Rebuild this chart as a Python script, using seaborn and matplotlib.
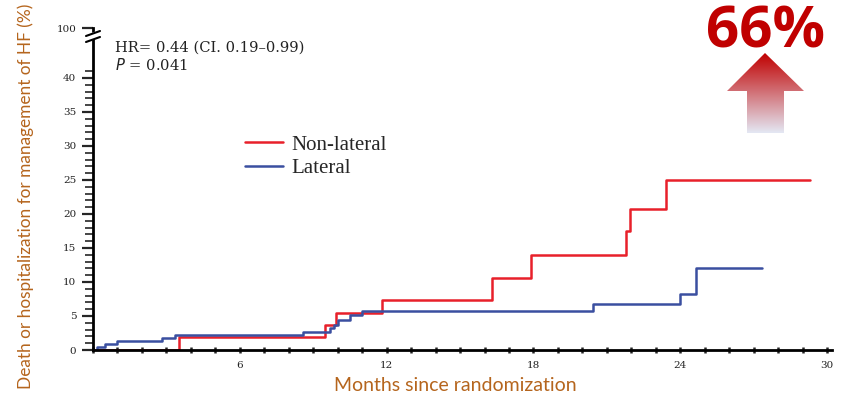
import numpy as np
import pandas as pd
import matplotlib
matplotlib.use('Agg')
import matplotlib.pyplot as plt
from matplotlib.patches import Polygon
import seaborn as sns

# step data (months, cumulative %)
nonlat_months = [0.0, 3.5, 9.5, 9.95, 11.8, 16.3, 17.9, 21.8, 21.95, 23.4, 29.3]
nonlat_pct = [0.0, 1.9, 3.7, 5.4, 7.4, 10.6, 14.0, 17.5, 20.8, 25.0, 25.0]
lat_months = [0.0, 0.15, 0.5, 1.0, 2.8, 3.35, 8.6, 9.7, 9.85, 10.0, 10.5, 11.0, 20.45, 24.0, 24.65, 27.35]
lat_pct = [0.0, 0.5, 0.9, 1.3, 1.8, 2.2, 2.6, 3.3, 3.7, 4.4, 5.2, 5.7, 6.7, 8.3, 12.0, 12.0]

ytick_vals = [0, 5, 10, 15, 20, 25, 30, 35, 40, 47.35]
ytick_labels = ['0', '5', '10', '15', '20', '25', '30', '35', '40', '100']
xtick_vals = [6, 12, 18, 24, 30]

df = pd.concat([
    pd.DataFrame({'month': nonlat_months, 'pct': nonlat_pct, 'group': 'Non-lateral'}),
    pd.DataFrame({'month': lat_months, 'pct': lat_pct, 'group': 'Lateral'}),
])

sns.set_style('white')
W, H = 850, 401
fig = plt.figure(figsize=(W / 100, H / 100), dpi=100)
ax = fig.add_axes([93 / W, (H - 350) / H, (832 - 93) / W, (350 - 28) / H])

sns.lineplot(data=df, x='month', y='pct', hue='group', estimator=None, sort=False,
             drawstyle='steps-post', palette={'Non-lateral': '#e8202a', 'Lateral': '#3a4fa0'},
             linewidth=1.8, ax=ax)

ax.set_xlim(0, 30.2)
ax.set_ylim(0, 47.35)
ax.set_xticks(xtick_vals)
ax.set_xticks(np.arange(0, 31, 1), minor=True)
ax.set_yticks(ytick_vals)
ax.set_yticklabels(ytick_labels)
ax.set_yticks(np.arange(0, 42, 1), minor=True)
serif = ['Liberation Serif', 'DejaVu Serif']
wide_serif = ['DejaVu Serif']
for lab in ax.get_xticklabels() + ax.get_yticklabels():
    lab.set_family(wide_serif)
    lab.set_fontsize(7.5)
    lab.set_color('#222222')
ax.tick_params(axis='y', which='major', direction='out', length=8, width=1.6, pad=4, left=True)
ax.tick_params(axis='y', which='minor', direction='out', length=6, width=1.2, left=True)
ax.tick_params(axis='x', which='both', direction='inout', length=4, width=1.8, bottom=True, pad=6)
for s in ['top', 'right']:
    ax.spines[s].set_visible(False)
for s in ['left', 'bottom']:
    ax.spines[s].set_linewidth(2)
    ax.spines[s].set_color('black')

ax.set_xlabel('')
ax.set_ylabel('')
label_font = ['Lato', 'Open Sans', 'DejaVu Sans']
fig.text(455 / W, 1 - 391 / H, 'Months since randomization', family=label_font, fontsize=14,
         color='#b5651d', ha='center', va='baseline')
fig.text(26 / W, 1 - 196 / H, 'Death or hospitalization for management of HF (%)', family=label_font,
         fontsize=12.4, color='#b5651d', ha='center', va='center', rotation=90)

ax.legend(handles=ax.get_legend_handles_labels()[0], labels=['Non-lateral', 'Lateral'],
          loc='upper left', bbox_to_anchor=((245 - 93) / 739, (350 - 135) / 322), frameon=False,
          prop={'family': serif, 'size': 15}, handlelength=1.8, handletextpad=0.45,
          labelspacing=0.2, borderpad=0, borderaxespad=0)

ax.text(0.03, 0.94, 'HR= 0.44 (CI. 0.19\u20130.99)', transform=ax.transAxes,
        family=wide_serif, fontsize=10.6, va='center', color='#222222')
ax.text(0.03, 0.885, '$P$ = 0.041', transform=ax.transAxes,
        family=wide_serif, fontsize=10.6, va='center', color='#222222')

# overlay in pixel coordinates for the decorations
ov = fig.add_axes([0, 0, 1, 1], facecolor='none')
ov.set_xlim(0, W)
ov.set_ylim(H, 0)
ov.axis('off')

# axis break mark
ov.add_patch(Polygon([[88, 35], [99, 31], [99, 37], [88, 41]], closed=True, color='white', zorder=3))
ov.plot([86, 100], [36, 31], color='black', lw=1.5, zorder=4)
ov.plot([86, 100], [42, 37], color='black', lw=1.5, zorder=4)

# gradient arrow
top = np.array(matplotlib.colors.to_rgb('#c00000'))
bot = np.array(matplotlib.colors.to_rgb('#e4e8f4'))
t = np.linspace(0, 1, 200)[:, None]
grad = (top * (1 - t) + bot * t)[:, None, :]
arrow = Polygon([[765, 53], [804, 91], [784, 91], [784, 133], [747, 133], [747, 91], [727, 91]],
                closed=True, facecolor='none', edgecolor='none')
ov.add_patch(arrow)
im = ov.imshow(grad, extent=[727, 804, 133, 53], aspect='auto', interpolation='bilinear')
im.set_clip_path(arrow)
ov.set_xlim(0, W)
ov.set_ylim(H, 0)

ov.text(766, 48, '66%', family=['Open Sans', 'DejaVu Sans'], fontweight='bold', fontsize=42,
        color='#c00000', ha='center', va='baseline')

fig.savefig('out.png', dpi=100)
